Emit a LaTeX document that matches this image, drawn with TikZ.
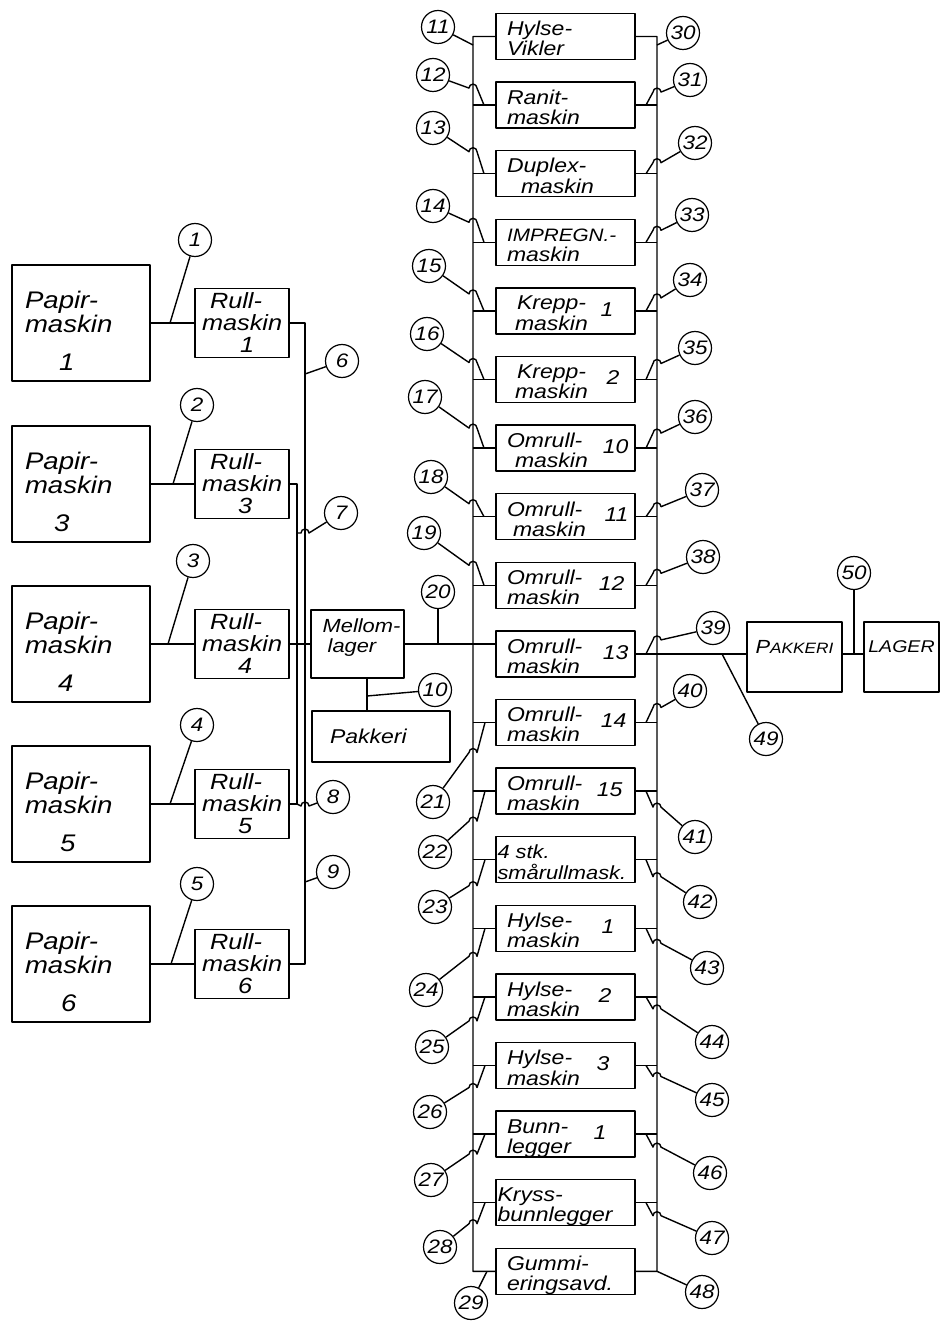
\documentclass[tikz,border=0pt]{standalone}
\usepackage{fontspec}
\newfontfamily\hand[FakeStretch=1.15]{Liberation Sans}
\newcommand\up[2]{\raisebox{#1}[\height][\depth]{#2}}
\newcommand\machine[5][\hspace*{4.5pt}]{%
  \pgfmathsetmacro\yy{36.5+68.6*#2}%
  \node[mbox] (m#2) at (565.5,\yy) {\makebox[126pt][l]{#1\up{-5pt}{\begin{tabular}{@{}l@{}}#3\\#4\end{tabular}}\hfill#5}};%
}
\begin{document}
\begin{tikzpicture}[x=1pt,y=-1pt, line width=1.4pt, line join=round,
  pm/.style={draw, minimum width=138pt, minimum height=116pt, inner sep=0pt, text width=112pt, align=left, font=\hand\itshape\fontsize{24}{24}\selectfont},
  rm/.style={draw, minimum width=94pt, minimum height=69pt, inner sep=0pt, text width=80pt, align=left, font=\hand\itshape\fontsize{22}{22}\selectfont},
  mbox/.style={draw, minimum width=139pt, minimum height=46pt, inner sep=0pt, font=\hand\itshape\fontsize{20}{19}\selectfont},
  plain/.style={draw, inner sep=0pt, font=\hand\itshape\fontsize{19}{20}\selectfont},
  num/.style={circle, draw, line width=1.2pt, minimum size=33pt, inner sep=0pt, font=\hand\itshape\fontsize{19.5}{19.5}\selectfont}]
\fill[white] (0,0) rectangle (941,1321);
\useasboundingbox (0,0) rectangle (941,1321);

% Papirmaskin
\node[pm] (pm1) at (81,323) {\rule{0pt}{33pt}Papir-\\maskin\\[14pt]\hspace*{34pt}1};
\node[pm] (pm3) at (81,484) {\rule{0pt}{33pt}Papir-\\maskin\\[14pt]\hspace*{29pt}3};
\node[pm] (pm4) at (81,644) {\rule{0pt}{33pt}Papir-\\maskin\\[14pt]\hspace*{33pt}4};
\node[pm] (pm5) at (81,804) {\rule{0pt}{33pt}Papir-\\maskin\\[14pt]\hspace*{35pt}5};
\node[pm] (pm6) at (81,964) {\rule{0pt}{33pt}Papir-\\maskin\\[14pt]\hspace*{36pt}6};

% Rullmaskin
\node[rm] (rm1) at (242,323) {\hspace*{8pt}Rull-\\maskin\\\hspace*{38pt}1};
\node[rm] (rm3) at (242,484) {\hspace*{8pt}Rull-\\maskin\\\hspace*{36pt}3};
\node[rm] (rm4) at (242,644) {\hspace*{8pt}Rull-\\maskin\\\hspace*{36pt}4};
\node[rm] (rm5) at (242,804) {\hspace*{8pt}Rull-\\maskin\\\hspace*{36pt}5};
\node[rm] (rm6) at (242,964) {\hspace*{8pt}Rull-\\maskin\\\hspace*{36pt}6};

\foreach \k in {1,3,4,5,6} {\draw (pm\k.east) -- (rm\k.west);}

% Mellomlager and Pakkeri
\node[plain, minimum width=93pt, minimum height=68pt] (mel) at (357.5,644)
  {\hspace*{8pt}\up{6pt}{\begin{tabular}{@{}l@{}}Mellom-\\\hspace*{5pt}lager\end{tabular}}};
\node[plain, minimum width=138pt, minimum height=51pt, text width=102pt, align=left,
  font=\hand\itshape\fontsize{20}{20}\selectfont] (pak) at (381,736.5) {Pakkeri};

% machines
\machine{0}{Hylse-}{Vikler}{}
\machine{1}{Ranit-}{maskin}{}
\machine{2}{Duplex-}{\hspace*{14pt}maskin}{}
\machine{3}{{\fontsize{18}{19}\selectfont IMPREGN.-}}{maskin}{}
\machine{4}{\hspace*{10pt}Krepp-}{\hspace*{8pt}maskin}{1\hspace*{15pt}}
\machine{5}{\hspace*{10pt}Krepp-}{\hspace*{8pt}maskin}{2\hspace*{9pt}}
\machine{6}{Omrull-}{\hspace*{8pt}maskin}{10}
\machine{7}{Omrull-}{\hspace*{6pt}maskin}{11}
\machine{8}{Omrull-}{maskin}{12\hspace*{4pt}}
\machine{9}{Omrull-}{maskin}{13}
\machine{10}{Omrull-}{maskin}{14\hspace*{2pt}}
\machine{11}{Omrull-}{maskin}{15\hspace*{6pt}}
\machine[\fontsize{19}{18}\selectfont\hspace*{-5pt}]{12}{4 stk.}{smårullmask.}{}
\machine{13}{Hylse-}{maskin}{1\hspace*{14pt}}
\machine{14}{Hylse-}{maskin}{2\hspace*{17pt}}
\machine{15}{Hylse-}{maskin}{3\hspace*{19pt}}
\machine{16}{Bunn-}{legger}{1\hspace*{22pt}}
\machine[\hspace*{-5pt}]{17}{Kryss-}{bunnlegger}{}
\machine{18}{Gummi-}{eringsavd.}{}

\node[plain, minimum width=95pt, minimum height=70pt] (pak2) at (794.5,657)
  {\up{10pt}{\fontsize{19}{19}\selectfont P\fontsize{15}{15}\selectfont AKKERI}};
\node[plain, minimum width=75pt, minimum height=70pt] (lag) at (901.5,657)
  {\up{10pt}{\fontsize{17}{17}\selectfont LAGER}};

% buses on the left
\draw (rm1.east) -- (305,323) -- (305,964) -- (rm6.east);
\draw (rm3.east) -- (297,484) -- (297,804) -- (rm5.east);
\draw (rm4.east) -- (mel.west);
\coordinate (mp) at (367,0);
\draw (mel.south -| mp) -- (pak.north -| mp);
\draw (mel.east) -- (m9.west |- mel.east);

% buses on the right
\coordinate (lbT) at (473,36.5);
\coordinate (lbB) at (473,1271.3);
\coordinate (rbT) at (657,36.5);
\coordinate (rbB) at (657,1271.3);
\draw (m0.west) -- (lbT) -- (lbB) -- (m18.west);
\draw (m0.east) -- (rbT) -- (rbB) -- (m18.east);
\foreach \i in {1,...,17} {\ifnum\i=9\else
  \draw (m\i.west) -- (m\i.west -| lbT);
  \draw (m\i.east) -- (m\i.east -| rbT);\fi}
\draw (m9.east) -- (m9.east -| pak2.west);
\draw (pak2.east |- m9.east) -- (lag.west |- m9.east);

% number circles with simple leaders
\foreach \n/\cx/\cy in {1/195/240, 2/197/405, 3/193/561, 4/197/725, 5/197/884,
  6/342/361, 7/341/513, 8/333/797, 9/333/872, 10/435/690, 11/438/27, 20/438/592,
  29/471/1303, 30/683/33, 48/702/1292, 49/766/739, 50/854/573}
  {\node[num] (c\n) at (\cx,\cy) {\n};}
\draw (c1) -- (170,323);
\draw (c2) -- (173,484);
\draw (c3) -- (168,644);
\draw (c4) -- (170,804);
\draw (c5) -- (171,964);
\draw (c6) -- (305,374);
\draw (c9) -- (305,882);
\draw (c7) -- (309,533) arc[start angle=0,end angle=180,radius=4pt] -- (297,533);
\draw (c8) -- (309,806) arc[start angle=0,end angle=180,radius=4pt] -- (297,804);
\draw (c10) -- (367,696);
\draw (c20) -- (c20 |- mel.east);
\draw (c11) -- (473,45);
\draw (c30) -- (657,45);
\draw (c29) -- (487,1271.3);
\draw (c48) -- (rbB);
\draw (c49) -- (722,653.9);
\draw (c50) -- (c50 |- m9.east);

% upper left leaders 12-19
\foreach \i/\n/\cx/\cy/\o in {1/12/433/75/17, 2/13/433/128/22, 3/14/433/206/20, 4/15/429/266/17,
  5/16/427/334/17, 6/17/425/397/20, 7/18/431/477/13, 8/19/424/533/20} {
  \pgfmathsetmacro\yy{36.5+68.6*\i}
  \pgfmathsetmacro\yh{\yy-\o}
  \node[num] (c\n) at (\cx,\cy) {\n};
  \draw (c\n) -- (469,\yh) arc[start angle=180,end angle=0,radius=4pt] -- (484,\yy);
}
% lower left leaders 21-28
\foreach \i/\n/\cx/\cy/\o in {10/21/433/802/30, 11/22/435/852/30, 12/23/435/907/26, 13/24/426/990/28,
  14/25/432/1047/24, 15/26/430/1112/22, 16/27/431/1180/20, 17/28/440/1247/21} {
  \pgfmathsetmacro\yy{36.5+68.6*\i}
  \pgfmathsetmacro\yh{\yy+\o}
  \node[num] (c\n) at (\cx,\cy) {\n};
  \draw (c\n) -- (469,\yh) arc[start angle=180,end angle=0,radius=4pt] -- (485,\yy);
}
% upper right leaders 31-40
\foreach \i/\n/\cx/\cy/\o in {1/31/690/80/13, 2/32/695/143/11, 3/33/692/215/12, 4/34/690/280/13,
  5/35/695/348/16, 6/36/695/417/15, 7/37/702/490/10, 8/38/703/557/12, 9/39/713/628/14, 10/40/690/691/15} {
  \pgfmathsetmacro\yy{36.5+68.6*\i}
  \pgfmathsetmacro\yh{\yy-\o}
  \node[num] (c\n) at (\cx,\cy) {\n};
  \draw (c\n) -- (661,\yh) arc[start angle=0,end angle=180,radius=4pt] -- (646,\yy);
}
% lower right leaders 41-47
\foreach \i/\n/\cx/\cy/\o in {11/41/695/837/16, 12/42/700/902/17, 13/43/707/968/15, 14/44/712/1042/12,
  15/45/712/1100/11, 16/46/710/1173/13, 17/47/712/1238/13} {
  \pgfmathsetmacro\yy{36.5+68.6*\i}
  \pgfmathsetmacro\yh{\yy+\o}
  \node[num] (c\n) at (\cx,\cy) {\n};
  \draw (c\n) -- (661,\yh) arc[start angle=0,end angle=180,radius=4pt] -- (646,\yy);
}
\end{tikzpicture}
\end{document}
